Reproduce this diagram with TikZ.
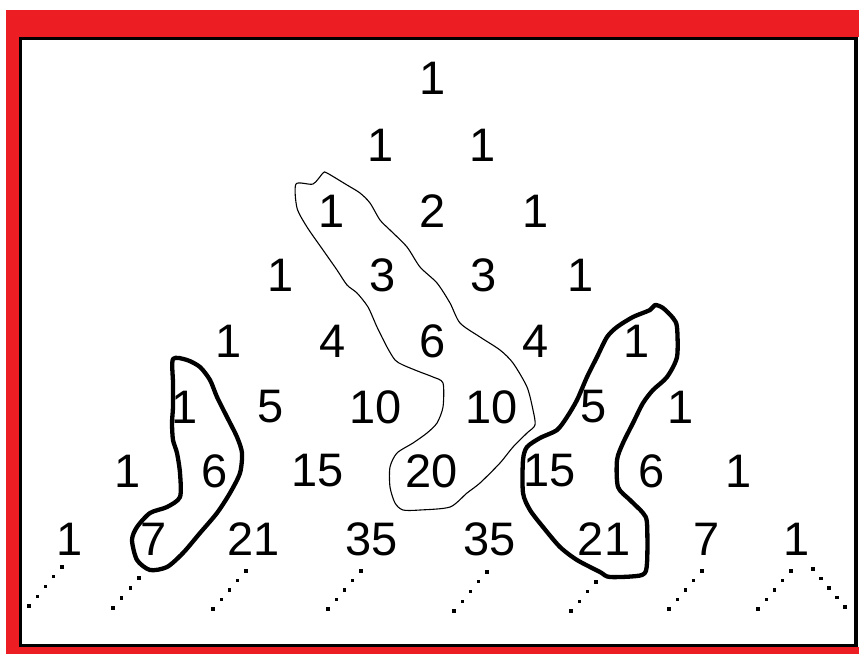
\documentclass[tikz,border=0pt]{standalone}
\usepackage{fontspec}
\setmainfont{Liberation Sans}
\definecolor{framered}{RGB}{236,30,36}
\begin{document}
\begin{tikzpicture}[x=1pt,y=-1pt,
  num/.style={inner sep=0pt, font=\fontsize{47}{47}\selectfont},
  thickloop/.style={line width=4.3pt, line join=round},
  thinloop/.style={line width=1.1pt, line join=round},
  dotfill/.style={fill=black}]
\useasboundingbox (0,0) rectangle (859,654);
\fill[white] (0,0) rectangle (859,654);
% frame
\fill[framered] (6,10) rectangle (859,37);
\fill[framered] (6,10) rectangle (19,654);
\fill[framered] (6,647) rectangle (859,654);
\draw[line width=3.2pt] (20.5,38.5) rectangle (856,645.5);
% numbers
\node[num] (r0a) at (433,78) {1};
\node[num] (r1a) at (381,145) {1};
\node[num] (r1b) at (483,145) {1};
\node[num] (r2a) at (332,211) {1};
\node[num] (r2b) at (433,211) {2};
\node[num] (r2c) at (536,211) {1};
\node[num] (r3a) at (281,275) {1};
\node[num] (r3b) at (383,275) {3};
\node[num] (r3c) at (484,275) {3};
\node[num] (r3d) at (581,275) {1};
\node[num] (r4a) at (229,341) {1};
\node[num] (r4b) at (333,341) {4};
\node[num] (r4c) at (433,341) {6};
\node[num] (r4d) at (536,341) {4};
\node[num] (r4e) at (637,341) {1};
\node[num] (r5a) at (185,407) {1};
\node[num] (r5b) at (271,407) {5};
\node[num] (r5c) at (376,407) {10};
\node[num] (r5d) at (492,407) {10};
\node[num] (r5e) at (594,407) {5};
\node[num] (r5f) at (681,407) {1};
\node[num] (r6a) at (128,471) {1};
\node[num] (r6b) at (215,471) {6};
\node[num] (r6c) at (318,471) {15};
\node[num] (r6d) at (432,471) {20};
\node[num] (r6e) at (550,471) {15};
\node[num] (r6f) at (652,471) {6};
\node[num] (r6g) at (739,471) {1};
\node[num] (r7a) at (70,539) {1};
\node[num] (r7b) at (154,539) {7};
\node[num] (r7c) at (254,539) {21};
\node[num] (r7d) at (372,539) {35};
\node[num] (r7e) at (490,539) {35};
\node[num] (r7f) at (604,539) {21};
\node[num] (r7g) at (707,539) {7};
\node[num] (r7h) at (797,539) {1};
% dotted continuations
\foreach \ax/\ay/\bx/\by/\n in {62/567/29/606/5, 139/578/113/608/4, 246/571/213/609/5,
  361/571/328/609/5, 487/572/454/611/5, 596/582/571/611/4, 702/571/669/609/5,
  791/571/758/609/5, 813/569/845/607/5}{
  \pgfmathsetmacro{\m}{\n-1}
  \foreach \k in {0,...,\m}{
    \pgfmathsetmacro{\t}{\k/\m}
    \fill[dotfill] ({\ax+(\bx-\ax)*\t-1.6},{\ay+(\by-\ay)*\t-1.6}) rectangle ++(3.2,3.2);
  }
}
% thin loop
\draw[thinloop] plot[smooth cycle, tension=0.45] coordinates {
 (296,184) (313,184) (323,173) (327,173) (347,185) (360,193) (370,203) (380,220)
 (390,230) (407,247) (420,267) (437,283) (450,303) (460,323) (480,337) (500,350)
 (513,363) (527,387) (533,410) (535,425) (527,433) (513,447) (500,463) (480,483)
 (467,493) (450,507) (420,510) (403,510) (395,503) (390,487) (390,467) (397,453)
 (413,443) (427,433) (437,423) (443,407) (443,383) (433,377) (420,372) (403,365)
 (395,360) (387,347) (377,327) (368,307) (357,293) (347,285) (337,270) (323,250)
 (307,227) (297,208)};
% left thick loop
\draw[thickloop] plot[smooth cycle, tension=0.45] coordinates {
 (173,359) (187,360) (200,367) (210,380) (217,397) (227,417) (237,437) (242,453)
 (240,473) (230,493) (217,513) (200,533) (183,553) (167,567) (150,570) (137,560)
 (132,540) (137,527) (150,513) (167,507) (180,497) (180,473) (177,453) (173,440)
 (172,423) (173,407) (173,383)};
% right thick loop
\draw[thickloop] plot[smooth cycle, tension=0.45] coordinates {
 (655,305) (663,308) (673,318) (677,327) (677,357) (667,377) (653,390) (643,403)
 (633,423) (623,443) (617,460) (618,487) (630,500) (643,513) (647,523) (647,563)
 (642,575) (610,577) (600,572) (577,560) (560,547) (543,527) (530,510) (523,493)
 (523,460) (527,447) (540,438) (557,430) (567,417) (577,400) (587,377) (597,357)
 (607,337) (617,327) (633,317) (650,310)};
\end{tikzpicture}
\end{document}
